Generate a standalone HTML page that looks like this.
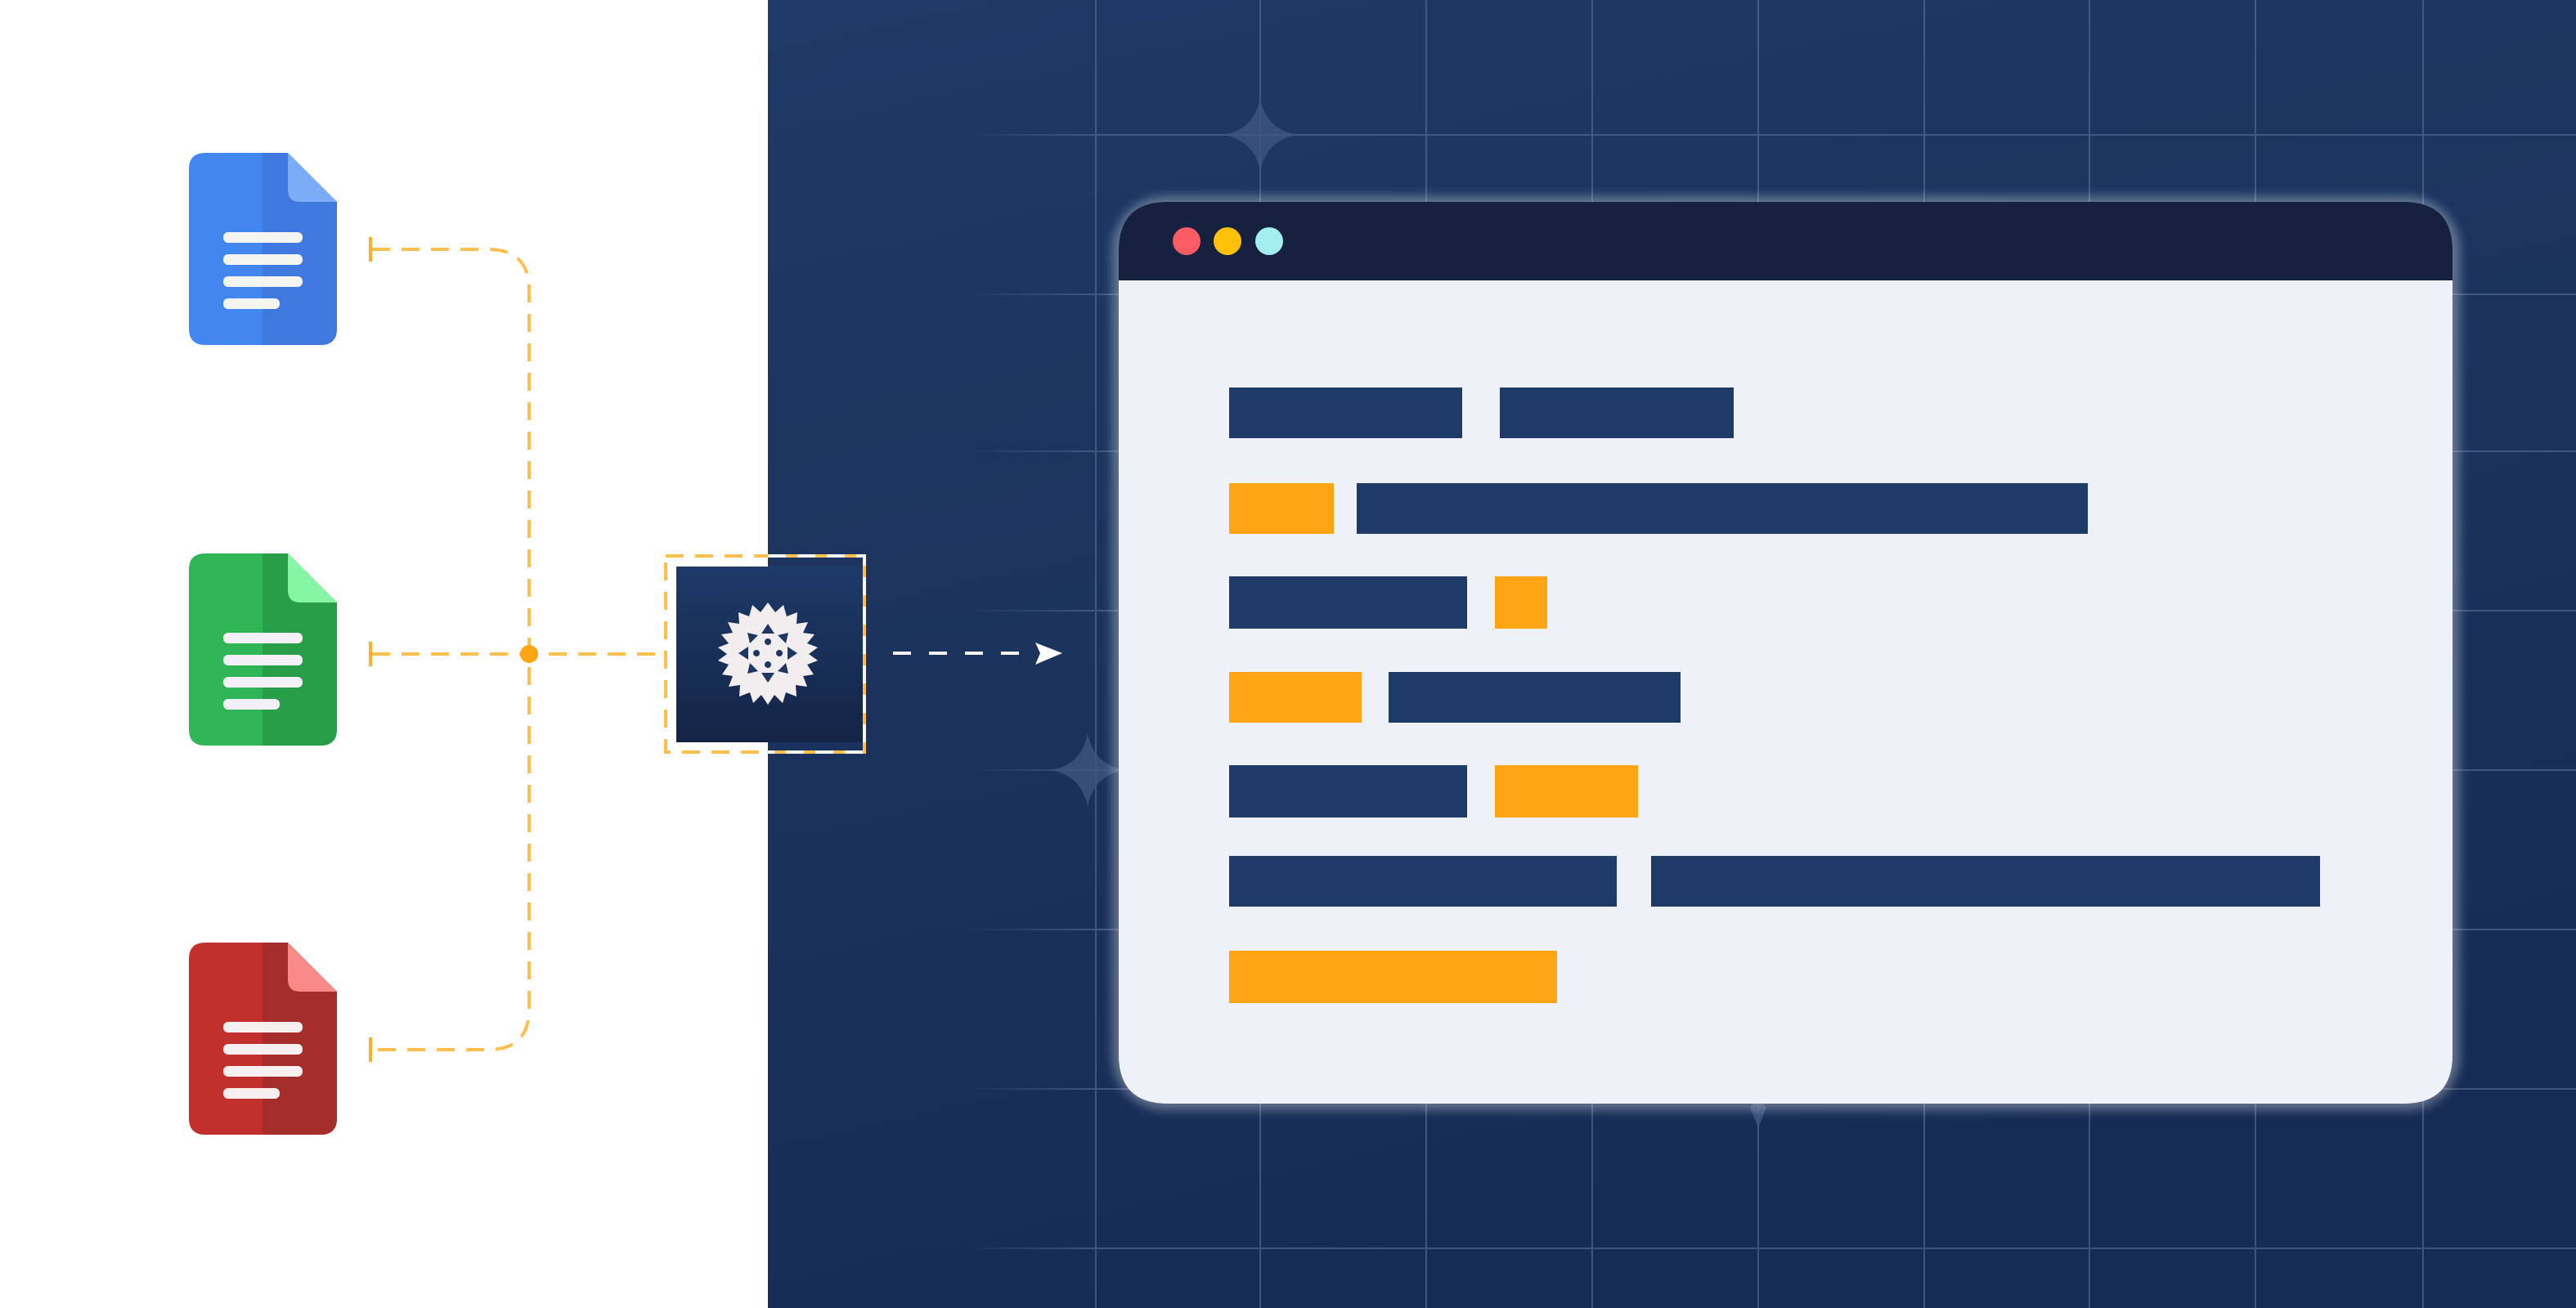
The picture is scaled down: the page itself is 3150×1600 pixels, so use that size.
<!DOCTYPE html>
<html><head><meta charset="utf-8"><style>html,body{margin:0;padding:0;background:#fff}svg{display:block}</style></head><body>
<svg width="3150" height="1600" viewBox="0 0 3150 1600" xmlns="http://www.w3.org/2000/svg">
<defs>
<linearGradient id="bg" x1="0" y1="0" x2="0.3" y2="1"><stop offset="0" stop-color="#1f3a66"/><stop offset="1" stop-color="#172c54"/></linearGradient>
<linearGradient id="gridfade" x1="0" y1="0" x2="1" y2="0"><stop offset="0" stop-color="#fff" stop-opacity="0"/><stop offset="0.08" stop-color="#fff" stop-opacity="1"/></linearGradient>
<mask id="gm"><rect x="1180" y="0" width="1970" height="1600" fill="url(#gridfade)"/></mask>
<linearGradient id="node" x1="0" y1="0" x2="0" y2="1"><stop offset="0" stop-color="#1e3a68"/><stop offset="1" stop-color="#132446"/></linearGradient>
<filter id="glow" x="-10%" y="-10%" width="120%" height="120%"><feGaussianBlur stdDeviation="6"/></filter>
</defs>
<rect x="0" y="0" width="3150" height="1600" fill="#fff"/>
<rect x="939" y="0" width="2211" height="1600" fill="url(#bg)"/>
<g mask="url(#gm)" stroke="#5a7096" stroke-width="2" opacity="0.6">
<line x1="1340" y1="0" x2="1340" y2="1600"/><line x1="1541" y1="0" x2="1541" y2="1600"/><line x1="1744" y1="0" x2="1744" y2="1600"/><line x1="1947" y1="0" x2="1947" y2="1600"/><line x1="2150" y1="0" x2="2150" y2="1600"/><line x1="2353" y1="0" x2="2353" y2="1600"/><line x1="2555" y1="0" x2="2555" y2="1600"/><line x1="2758" y1="0" x2="2758" y2="1600"/><line x1="2963" y1="0" x2="2963" y2="1600"/>
<line x1="1180" y1="165" x2="3150" y2="165"/><line x1="1180" y1="360" x2="3150" y2="360"/><line x1="1180" y1="552" x2="3150" y2="552"/><line x1="1180" y1="747" x2="3150" y2="747"/><line x1="1180" y1="942" x2="3150" y2="942"/><line x1="1180" y1="1137" x2="3150" y2="1137"/><line x1="1180" y1="1332" x2="3150" y2="1332"/><line x1="1180" y1="1527" x2="3150" y2="1527"/>
</g>
<g fill="#3d5580" opacity="0.8">
<path d="M1541 120 Q1548 158 1586 165 Q1548 172 1541 210 Q1534 172 1496 165 Q1534 158 1541 120Z"/>
<path d="M1330 897 Q1337 935 1375 942 Q1337 949 1330 987 Q1323 949 1285 942 Q1323 935 1330 897Z"/>
<path d="M2150 1330 Q2155 1350 2160 1355 L2150 1380 L2140 1355 Q2145 1350 2150 1330Z"/>
</g>
<!-- browser window -->
<rect x="1360" y="240" width="1648" height="1118" rx="66" fill="#e8ecf4" opacity="0.35" filter="url(#glow)"/>
<path d="M1368 343 L1368 307 Q1368 247 1428 247 L2939 247 Q2999 247 2999 307 L2999 343 Z" fill="#15213f"/>
<path d="M1368 343 L2999 343 L2999 1290 Q2999 1350 2939 1350 L1428 1350 Q1368 1350 1368 1290 Z" fill="#eef1f7"/>
<circle cx="1451" cy="295" r="17" fill="#fb5c63"/><circle cx="1501" cy="295" r="17" fill="#ffc107"/><circle cx="1552" cy="295" r="17" fill="#a3edef"/>
<g fill="#1e3a66">
<rect x="1503" y="474" width="285" height="62"/><rect x="1834" y="474" width="286" height="62"/>
<rect x="1659" y="591" width="894" height="62"/>
<rect x="1503" y="705" width="291" height="64"/>
<rect x="1698" y="822" width="357" height="62"/>
<rect x="1503" y="936" width="291" height="64"/>
<rect x="1503" y="1047" width="474" height="62"/><rect x="2019" y="1047" width="818" height="62"/>
</g>
<g fill="#ffa412">
<rect x="1503" y="591" width="128" height="62"/>
<rect x="1828" y="705" width="64" height="64"/>
<rect x="1503" y="822" width="162" height="62"/>
<rect x="1828" y="936" width="175" height="64"/>
<rect x="1503" y="1163" width="401" height="64"/>
</g>
<!-- docs -->
<g>
<path d="M251 187 L352 187 L412 247 L412 402 Q412 422 392 422 L251 422 Q231 422 231 402 L231 207 Q231 187 251 187Z" fill="#4287f0"/>
<path d="M321 187 L352 187 L412 247 L412 402 Q412 422 392 422 L321 422Z" fill="#3f78de"/>
<path d="M352 187 L412 247 L367 247 Q352 247 352 232Z" fill="#7cacf6"/>
<g fill="#f4f4f0"><rect x="273" y="284" width="97" height="13" rx="6"/><rect x="273" y="311" width="97" height="13" rx="6"/><rect x="273" y="338" width="97" height="13" rx="6"/><rect x="273" y="365" width="69" height="13" rx="6"/></g>
</g>
<g>
<path d="M251 677 L352 677 L412 737 L412 892 Q412 912 392 912 L251 912 Q231 912 231 892 L231 697 Q231 677 251 677Z" fill="#2fb556"/>
<path d="M321 677 L352 677 L412 737 L412 892 Q412 912 392 912 L321 912Z" fill="#289e49"/>
<path d="M352 677 L412 737 L367 737 Q352 737 352 722Z" fill="#86f5a4"/>
<g fill="#f4f0f8"><rect x="273" y="774" width="97" height="13" rx="6"/><rect x="273" y="801" width="97" height="13" rx="6"/><rect x="273" y="828" width="97" height="13" rx="6"/><rect x="273" y="855" width="69" height="13" rx="6"/></g>
</g>
<g>
<path d="M251 1153 L352 1153 L412 1213 L412 1368 Q412 1388 392 1388 L251 1388 Q231 1388 231 1368 L231 1173 Q231 1153 251 1153Z" fill="#c2302e"/>
<path d="M321 1153 L352 1153 L412 1213 L412 1368 Q412 1388 392 1388 L321 1388Z" fill="#a52d2c"/>
<path d="M352 1153 L412 1213 L367 1213 Q352 1213 352 1198Z" fill="#f98a87"/>
<g fill="#f8f0f0"><rect x="273" y="1250" width="97" height="13" rx="6"/><rect x="273" y="1277" width="97" height="13" rx="6"/><rect x="273" y="1304" width="97" height="13" rx="6"/><rect x="273" y="1331" width="69" height="13" rx="6"/></g>
</g>
<!-- connectors -->
<g fill="none" stroke="#ffbf4f" stroke-width="4" stroke-dasharray="22 14">
<path d="M455 305 L597 305 Q647 305 647 355 L647 1234 Q647 1284 597 1284 L455 1284"/>
<path d="M455 800 L813 800"/>
</g>
<g stroke="#ffae2a" stroke-width="4"><line x1="453" y1="290" x2="453" y2="320"/><line x1="453" y1="785" x2="453" y2="815"/><line x1="453" y1="1269" x2="453" y2="1299"/></g>
<circle cx="647" cy="800" r="11" fill="#ffa412"/>
<!-- node -->
<rect x="827" y="693" width="230" height="215" fill="url(#node)"/>
<rect x="814" y="680" width="243" height="240" fill="none" stroke="#ffbf4f" stroke-width="4" stroke-dasharray="22 14"/>
<path d="M939 680 L1057 680 L1057 920 L939 920" fill="none" stroke="#f4f4f4" stroke-width="4" stroke-dasharray="22 14"/>
<g transform="translate(939 799)">
<polygon fill="#f2eef0" points="0,-62 9,-50 19,-59 23,-45 36,-50 35,-36 49,-38 43,-25 57,-23 48,-12 61,-7 50,1 61,9 48,14 56,26 43,28 48,41 34,39 35,53 22,48 18,61 8,51 0,63 -8,51 -18,61 -22,48 -35,53 -34,39 -48,41 -43,28 -56,26 -48,14 -61,9 -50,1 -61,-7 -48,-12 -57,-23 -43,-25 -49,-38 -35,-36 -36,-50 -23,-45 -19,-59 -9,-50"/>
<g fill="#1d3762">
<polygon points="0,-36 8,-24 -8,-24"/><polygon points="0,36 8,24 -8,24"/><polygon points="-36,0 -24,8 -24,-8"/><polygon points="36,0 24,8 24,-8"/>
<polygon points="25,-25 12,-22 22,-12"/><polygon points="-25,25 -12,22 -22,12"/><polygon points="-25,-25 -12,-22 -22,-12"/><polygon points="25,25 12,22 22,12"/>
<circle cx="0" cy="-14" r="4"/><circle cx="0" cy="14" r="4"/><circle cx="-14" cy="0" r="4"/><circle cx="14" cy="0" r="4"/>
</g>
</g>
<!-- arrow -->
<line x1="1092" y1="799" x2="1262" y2="799" stroke="#f4f4f4" stroke-width="4" stroke-dasharray="22 22"/>
<polygon points="1266,786 1299,799 1266,813 1272,799" fill="#fff"/>
</svg>
</body></html>
